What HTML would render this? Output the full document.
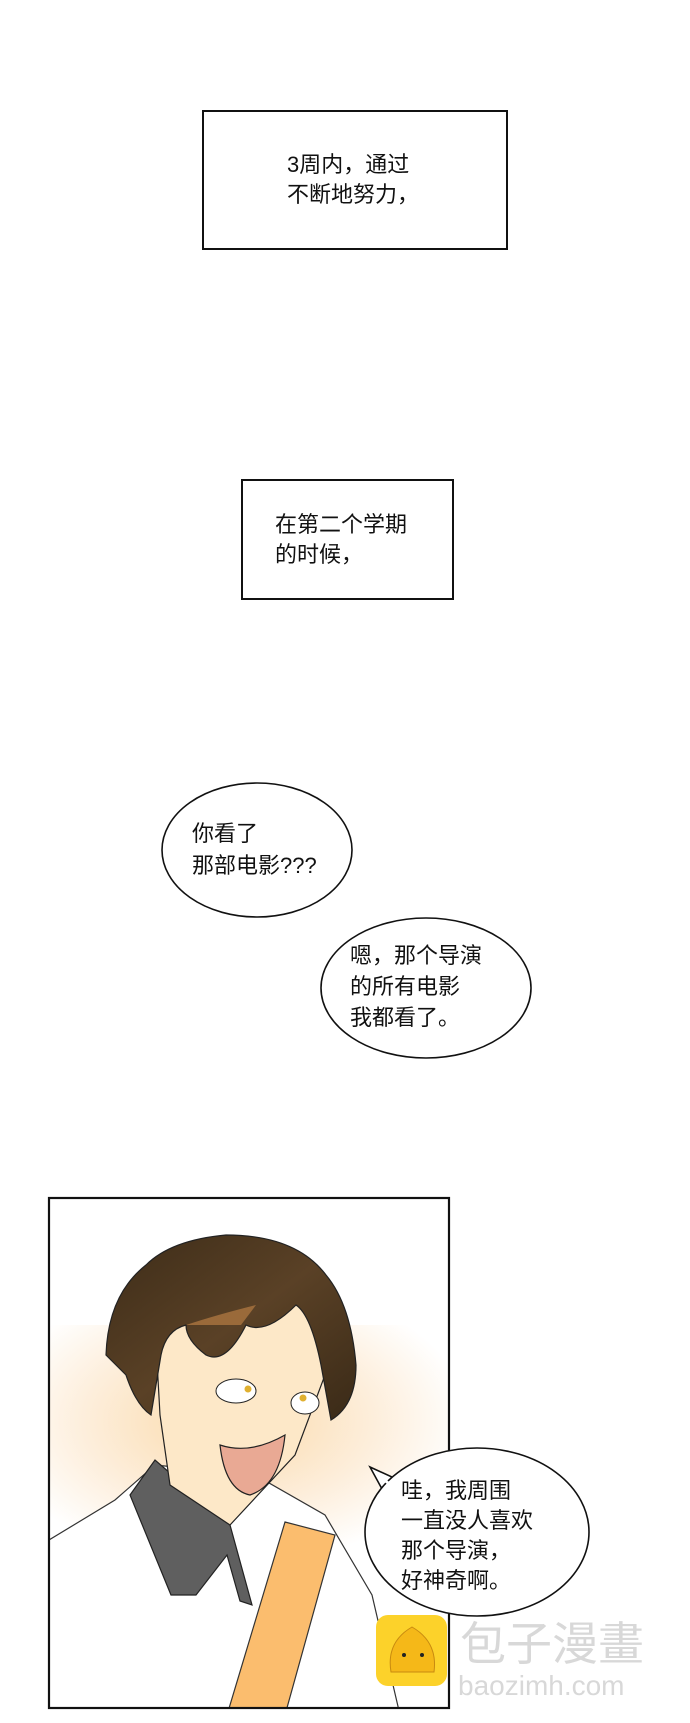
<!DOCTYPE html>
<html><head><meta charset="utf-8"><style>
body{margin:0;width:690px;height:1723px;background:#fff;position:relative;overflow:hidden;font-family:"Liberation Sans","Noto Sans CJK SC",sans-serif;color:#111}
.t{position:absolute;font-size:22px;line-height:30px;white-space:nowrap}
</style></head><body>
<svg width="690" height="1723" style="position:absolute;left:0;top:0">
<defs>
<radialGradient id="bg" cx="0.45" cy="0.4" r="0.6">
<stop offset="0" stop-color="#fbd9a8"/><stop offset="0.6" stop-color="#fdeedb"/><stop offset="1" stop-color="#fff"/></radialGradient>
<linearGradient id="hair" x1="0" y1="0" x2="1" y2="1"><stop offset="0" stop-color="#3d2c18"/><stop offset="0.5" stop-color="#5a4126"/><stop offset="1" stop-color="#3a2a17"/></linearGradient>
<clipPath id="pc"><rect x="49" y="1193" width="400" height="510"/></clipPath>
</defs>
<rect x="203" y="111" width="304" height="138" fill="#fff" stroke="#111" stroke-width="2"/>
<rect x="242" y="480" width="211" height="119" fill="#fff" stroke="#111" stroke-width="2"/>
<ellipse cx="257" cy="850" rx="95" ry="67" fill="#fff" stroke="#111" stroke-width="1.6"/>
<ellipse cx="426" cy="988" rx="105" ry="70" fill="#fff" stroke="#111" stroke-width="1.6"/>
<g transform="translate(0,5)">
<g clip-path="url(#pc)">
<rect x="49" y="1193" width="400" height="510" fill="#fff"/>
<rect x="49" y="1320" width="400" height="240" fill="url(#bg)"/>
<path d="M49 1535 L115 1495 L155 1460 L255 1470 L325 1510 L372 1590 L400 1710 L49 1710Z" fill="#fff" stroke="#333" stroke-width="1.2"/>
<path d="M130 1490 L155 1455 L230 1520 L252 1600 L240 1596 L227 1550 L196 1590 L171 1590Z" fill="#5f5f5f" stroke="#222" stroke-width="1.2"/>
<path d="M160 1410 L170 1480 L230 1520 L295 1450 L325 1370 L335 1320 L295 1290 L155 1320Z" fill="#fde8c8" stroke="#222" stroke-width="1.2"/>
<path d="M220 1440 Q250 1450 285 1430 Q280 1480 250 1490 Q225 1485 220 1440Z" fill="#e9a994" stroke="#222" stroke-width="1.2"/>
<ellipse cx="236" cy="1386" rx="20" ry="12" fill="#fff" stroke="#222"/>
<ellipse cx="305" cy="1398" rx="14" ry="11" fill="#fff" stroke="#222"/>
<circle cx="248" cy="1384" r="3.5" fill="#e0b030"/><circle cx="303" cy="1393" r="3.5" fill="#e0b030"/>
<path d="M106 1350 Q108 1290 146 1260 Q171 1235 226 1230 Q296 1230 326 1270 Q351 1300 356 1360 Q356 1400 331 1415 L321 1360 Q311 1310 296 1300 Q266 1330 246 1320 Q226 1360 206 1350 Q186 1335 186 1320 Q166 1325 161 1350 L151 1410 Q136 1400 126 1370Z" fill="url(#hair)" stroke="#222" stroke-width="1.2"/>
<path d="M186 1320 Q216 1310 256 1300 L241 1320Z" fill="#9a6a3a"/>
<path d="M285 1517 L335 1530 L285 1710 L227 1710Z" fill="#fbbd6e" stroke="#333" stroke-width="1.2"/>
</g>
<rect x="49" y="1193" width="400" height="510" fill="none" stroke="#111" stroke-width="2.2"/>
<path d="M370 1462 L392 1472 L382 1484Z" fill="#fff" stroke="#111" stroke-width="1.6"/>
<ellipse cx="477" cy="1527" rx="112" ry="84" fill="#fff" stroke="#111" stroke-width="1.6"/>
<path d="M382 1473 L393 1482" stroke="#fff" stroke-width="3"/>
<rect x="376" y="1610" width="71" height="71" rx="12" fill="#fcd22a"/>
<path d="M391 1667 Q386 1637 412 1622 Q438 1637 434 1667Z" fill="#f5b818" stroke="#c88a10"/>
<circle cx="404" cy="1650" r="2" fill="#222"/><circle cx="422" cy="1650" r="2" fill="#222"/>
</g>
</svg>
<div class="t" style="left:287px;top:150px">3周内，通过<br>不断地努力，</div>
<div class="t" style="left:275px;top:510px">在第二个学期<br>的时候，</div>
<div class="t" style="left:192px;top:818px;line-height:32px">你看了<br>那部电影???</div>
<div class="t" style="left:350px;top:940px;line-height:31px">嗯，那个导演<br>的所有电影<br>我都看了。</div>
<div class="t" style="left:401px;top:1476px;line-height:30px">哇，我周围<br>一直没人喜欢<br>那个导演，<br>好神奇啊。</div>
<div class="t" style="left:460px;top:1617px;font-size:46px;line-height:54px;color:#d8d8d8">包子漫畫</div>
<div class="t" style="left:458px;top:1670px;font-size:28px;line-height:32px;color:#d8d8d8">baozimh.com</div>
</body></html>
